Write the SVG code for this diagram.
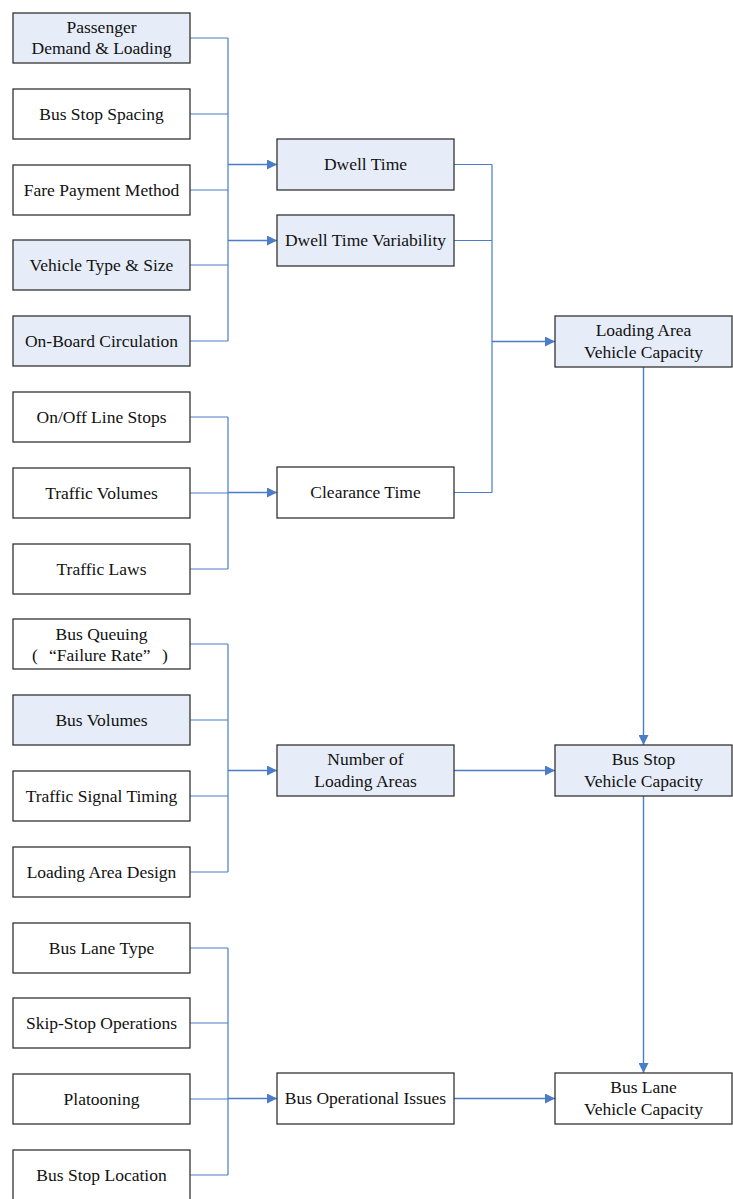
<svg xmlns="http://www.w3.org/2000/svg" width="733" height="1199" viewBox="0 0 733 1199">
<style>
.b{fill:#ffffff;stroke:#333333;stroke-width:1.3}
.s{fill:#e7edf8;stroke:#333333;stroke-width:1.3}
text{font-family:"Liberation Serif","Times New Roman","Noto Sans CJK SC",serif;font-size:17.5px;fill:#111111;text-anchor:middle}
.l{text-anchor:start}
.c{fill:none;stroke:#4a7cc8;stroke-width:1.2}
.a{fill:none;stroke:#4a7cc8;stroke-width:1.4;marker-end:url(#ah)}
</style>
<defs>
<marker id="ah" markerWidth="11" markerHeight="10" refX="10" refY="5" orient="auto" markerUnits="userSpaceOnUse">
<path d="M0,0 L10,5 L0,10 Z" fill="#4a7cc8"/>
</marker>
</defs>
<g id="connectors">
<path class="c" d="M190,38 H228 M190,114 H228 M190,190 H228 M190,265 H228 M190,341 H228 M228,38 V341"/>
<path class="a" d="M228,164.5 H277"/>
<path class="a" d="M228,240.5 H277"/>
<path class="c" d="M190,417 H228 M190,493 H228 M190,569 H228 M228,417 V569"/>
<path class="a" d="M228,492.5 H277"/>
<path class="c" d="M190,644 H228 M190,720 H228 M190,796 H228 M190,872 H228 M228,644 V872"/>
<path class="a" d="M228,770.5 H277"/>
<path class="c" d="M190,948 H228 M190,1023 H228 M190,1099 H228 M190,1175 H228 M228,948 V1175"/>
<path class="a" d="M228,1098.5 H277"/>
<path class="c" d="M454,164.5 H492 M454,240.5 H492 M454,492.5 H492 M492,164.5 V492.5"/>
<path class="a" d="M492,341.5 H555"/>
<path class="a" d="M454,770.5 H555"/>
<path class="a" d="M454,1098.5 H555"/>
<path class="a" d="M643.5,367 V745"/>
<path class="a" d="M643.5,796 V1073"/>
</g>
<g id="n1"><rect class="s" x="13" y="13" width="177" height="50"/><text x="101.5" y="33">Passenger</text><text x="101.5" y="54">Demand &amp; Loading</text></g>
<g id="n2"><rect class="b" x="13" y="89" width="177" height="50"/><text x="101.5" y="119.5">Bus Stop Spacing</text></g>
<g id="n3"><rect class="b" x="13" y="165" width="177" height="50"/><text x="101.5" y="195.5">Fare Payment Method</text></g>
<g id="n4"><rect class="s" x="13" y="240" width="177" height="50"/><text x="101.5" y="270.5">Vehicle Type &amp; Size</text></g>
<g id="n5"><rect class="s" x="13" y="316" width="177" height="50"/><text x="101.5" y="346.5">On-Board Circulation</text></g>
<g id="n6"><rect class="b" x="13" y="392" width="177" height="50"/><text x="101.5" y="422.5">On/Off Line Stops</text></g>
<g id="n7"><rect class="b" x="13" y="468" width="177" height="50"/><text x="101.5" y="498.5">Traffic Volumes</text></g>
<g id="n8"><rect class="b" x="13" y="544" width="177" height="50"/><text x="101.5" y="574.5">Traffic Laws</text></g>
<g id="n9"><rect class="b" x="13" y="619" width="177" height="50"/><text x="101.5" y="639.5">Bus Queuing</text><text class="l" y="660.5"><tspan x="32">(</tspan><tspan x="49">“Failure Rate”</tspan><tspan x="162">)</tspan></text></g>
<g id="n10"><rect class="s" x="13" y="695" width="177" height="50"/><text x="101.5" y="725.5">Bus Volumes</text></g>
<g id="n11"><rect class="b" x="13" y="771" width="177" height="50"/><text x="101.5" y="801.5">Traffic Signal Timing</text></g>
<g id="n12"><rect class="b" x="13" y="847" width="177" height="50"/><text x="101.5" y="877.5">Loading Area Design</text></g>
<g id="n13"><rect class="b" x="13" y="923" width="177" height="50"/><text x="101.5" y="953.5">Bus Lane Type</text></g>
<g id="n14"><rect class="b" x="13" y="998" width="177" height="50"/><text x="101.5" y="1028.5">Skip-Stop Operations</text></g>
<g id="n15"><rect class="b" x="13" y="1074" width="177" height="50"/><text x="101.5" y="1104.5">Platooning</text></g>
<g id="n16"><rect class="b" x="13" y="1150" width="177" height="50"/><text x="101.5" y="1180.5">Bus Stop Location</text></g>
<g id="m1"><rect class="s" x="277" y="139" width="177" height="51"/><text x="365.5" y="170">Dwell Time</text></g>
<g id="m2"><rect class="s" x="277" y="215" width="177" height="51"/><text x="365.5" y="246">Dwell Time Variability</text></g>
<g id="m3"><rect class="b" x="277" y="467" width="177" height="51"/><text x="365.5" y="498">Clearance Time</text></g>
<g id="m4"><rect class="s" x="277" y="745" width="177" height="51"/><text x="365.5" y="765">Number of</text><text x="365.5" y="786.5">Loading Areas</text></g>
<g id="m5"><rect class="b" x="277" y="1073" width="177" height="51"/><text x="365.5" y="1104">Bus Operational Issues</text></g>
<g id="r1"><rect class="s" x="555" y="316" width="177" height="51"/><text x="643.5" y="336">Loading Area</text><text x="643.5" y="357.5">Vehicle Capacity</text></g>
<g id="r2"><rect class="s" x="555" y="745" width="177" height="51"/><text x="643.5" y="765">Bus Stop</text><text x="643.5" y="786.5">Vehicle Capacity</text></g>
<g id="r3"><rect class="b" x="555" y="1073" width="177" height="51"/><text x="643.5" y="1093">Bus Lane</text><text x="643.5" y="1114.5">Vehicle Capacity</text></g>
</svg>
